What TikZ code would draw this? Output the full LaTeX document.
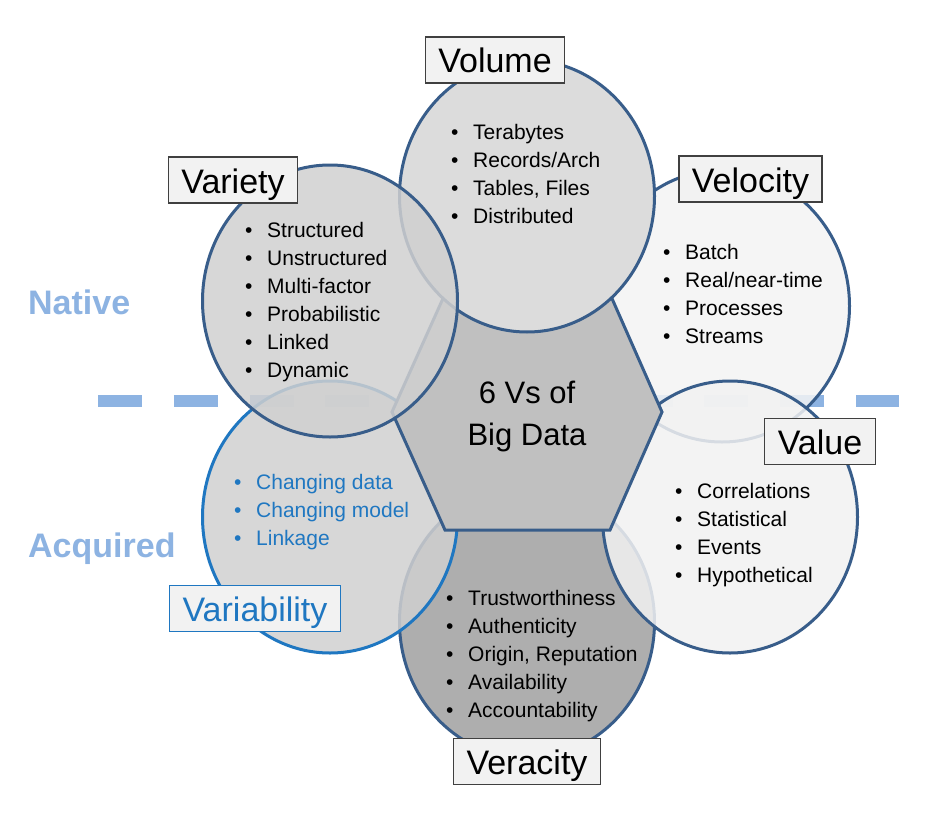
\documentclass[tikz,border=0pt]{standalone}
\usepackage{fontspec}
\setmainfont{Liberation Sans}
\usetikzlibrary{shapes.geometric}

\definecolor{outlineblue}{HTML}{385D8A}
\definecolor{varblue}{HTML}{1F77C1}
\definecolor{lightblue}{HTML}{8DB3E2}
\definecolor{volumefill}{HTML}{DCDCDC}
\definecolor{varietyfill}{HTML}{D0D0D0}
\definecolor{velocityfill}{HTML}{F4F4F4}
\definecolor{valuefill}{HTML}{F2F2F2}
\definecolor{variabilityfill}{HTML}{D0D0D0}
\definecolor{veracityfill}{HTML}{A0A0A0}
\definecolor{hexfill}{HTML}{C0C0C0}
\definecolor{labelfill}{HTML}{F2F2F2}
\definecolor{labelborder}{HTML}{404040}

\newcommand\bulletline[1]{\makebox[22pt][l]{\textbullet}#1}

\begin{document}
\begin{tikzpicture}[x=1pt,y=-1pt,
  vcircle/.style={ellipse, draw=outlineblue, line width=3pt,
    minimum width=255pt, minimum height=272pt, inner sep=0pt, fill opacity=0.85},
  vlabel/.style={draw=labelborder, fill=labelfill, line width=1.2pt,
    minimum height=46pt, inner xsep=13pt, inner ysep=0pt,
    text height=26pt, text depth=0pt, font=\fontsize{34}{40}\selectfont},
  vlist/.style={anchor=west, align=left, inner sep=0pt,
    font=\fontsize{21}{28}\selectfont},
  side/.style={anchor=west, inner sep=0pt, text=lightblue,
    font=\fontsize{34}{40}\selectfont\bfseries},
  hexstyle/.style={draw=outlineblue, fill=hexfill, line width=3pt, line join=miter},
  hextext/.style={align=center, inner sep=0pt, font=\fontsize{31}{42}\selectfont},
  dashline/.style={draw=lightblue, line width=12pt, dash pattern=on 44pt off 31.8pt}
]
\useasboundingbox (0,0) rectangle (926,824);
\fill[white] (0,0) rectangle (926,824);

% native / acquired divider
\coordinate (dashL) at (98,401);
\coordinate (dashR) at (899,401);
\draw[dashline] (dashL) -- (dashR);

% the six V circles, back to front
\node[vcircle, fill=veracityfill]    (cVeracity)    at (527,622) {};
\node[vcircle, fill=velocityfill]    (cVelocity)    at (722,306) {};
\node[vcircle, fill=valuefill]       (cValue)       at (730,517) {};
\node[vcircle, fill=variabilityfill, draw=varblue] (cVariability) at (330,517) {};

% central hexagon
\draw[hexstyle] (392,412) -- (445,294) -- (610,294) -- (662,412)
  -- (610,530) -- (445,530) -- cycle;

\node[vcircle, fill=volumefill, fill opacity=1] (cVolume) at (527,196) {};
\node[vcircle, fill=varietyfill]     (cVariety)     at (330,301) {};

% centre title
\node[hextext] (core) at (527,416) {6 Vs of\\Big Data};

% bullet lists
\node[vlist] (lVolume) at (451,174) {%
  \bulletline{Terabytes}\\\bulletline{Records/Arch}\\
  \bulletline{Tables, Files}\\\bulletline{Distributed}};
\node[vlist] (lVariety) at (245,302) {%
  \bulletline{Structured}\\\bulletline{Unstructured}\\
  \bulletline{Multi-factor}\\\bulletline{Probabilistic}\\
  \bulletline{Linked}\\\bulletline{Dynamic}};
\node[vlist] (lVelocity) at (663,294) {%
  \bulletline{Batch}\\\bulletline{Real/near-time}\\
  \bulletline{Processes}\\\bulletline{Streams}};
\node[vlist] (lValue) at (675,535) {%
  \bulletline{Correlations}\\\bulletline{Statistical}\\
  \bulletline{Events}\\\bulletline{Hypothetical}};
\node[vlist, text=varblue] (lVariability) at (234,512) {%
  \bulletline{Changing data}\\\bulletline{Changing model}\\
  \bulletline{Linkage}};
\node[vlist] (lVeracity) at (446,656) {%
  \bulletline{Trustworthiness}\\\bulletline{Authenticity}\\
  \bulletline{Origin, Reputation}\\\bulletline{Availability}\\
  \bulletline{Accountability}};

% title boxes
\node[vlabel] (tVolume)   at (495,60)    {Volume};
\node[vlabel] (tVariety)  at (233,180)   {Variety};
\node[vlabel] (tVelocity) at (750.5,179) {Velocity};
\node[vlabel] (tValue)    at (820,441.5) {Value};
\node[vlabel, draw=varblue, text=varblue] (tVariability) at (255,608.5) {Variability};
\node[vlabel] (tVeracity) at (527,761.5) {Veracity};

% side captions
\node[side] (native)   at (28,302)   {Native};
\node[side] (acquired) at (28,548.5) {Acquired};
\end{tikzpicture}
\end{document}
